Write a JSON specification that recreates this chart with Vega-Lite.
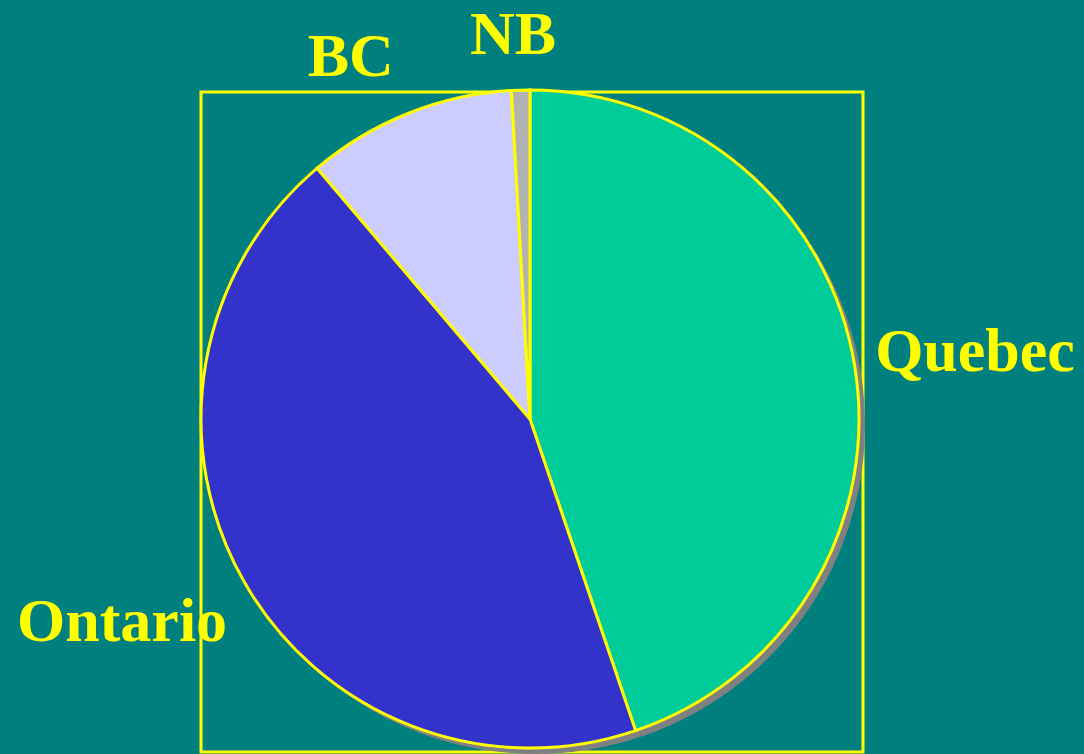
{
  "$schema": "https://vega.github.io/schema/vega-lite/v6.json",
  "width": 662,
  "height": 660,
  "autosize": {"type": "none"},
  "padding": {"left": 201, "top": 92, "right": 221, "bottom": 2},
  "background": "#007F7F",
  "view": {"stroke": "#FFFF00", "strokeWidth": 3, "fill": "#007F7F"},
  "config": {
    "text": {"font": "Liberation Serif", "fontWeight": "bold", "fontSize": 62, "fill": "#FFFF00", "align": "center", "baseline": "middle"}
  },
  "data": {
    "values": [
      {"province": "Quebec", "share": 44.8},
      {"province": "Ontario", "share": 44.0},
      {"province": "BC", "share": 10.3},
      {"province": "NB", "share": 0.9}
    ]
  },
  "encoding": {
    "theta": {"field": "share", "type": "quantitative", "stack": true},
    "order": {"field": "share", "type": "quantitative", "sort": "descending"}
  },
  "layer": [
    {
      "mark": {"type": "arc", "outerRadius": 329, "fill": "#808080", "xOffset": 4, "yOffset": 3}
    },
    {
      "mark": {"type": "arc", "outerRadius": 329, "stroke": "#FFFF00", "strokeWidth": 3, "xOffset": -2, "yOffset": -3},
      "encoding": {
        "color": {
          "field": "province",
          "type": "nominal",
          "scale": {"domain": ["Quebec", "Ontario", "BC", "NB"], "range": ["#00CC99", "#3333CC", "#CCCCFF", "#B2B2B2"]},
          "legend": null
        }
      }
    },
    {
      "mark": {"type": "text", "radius": 450, "dx": -1, "dy": 3},
      "encoding": {"text": {"condition": {"test": "datum.province === 'Quebec'", "field": "province"}, "value": ""}}
    },
    {
      "mark": {"type": "text", "radius": 455, "dx": -14, "dy": -24},
      "encoding": {"text": {"condition": {"test": "datum.province === 'Ontario'", "field": "province"}, "value": ""}}
    },
    {
      "mark": {"type": "text", "radius": 405, "dx": -31, "dy": 11},
      "encoding": {"text": {"condition": {"test": "datum.province === 'BC'", "field": "province"}, "value": ""}}
    },
    {
      "mark": {"type": "text", "radius": 388, "dx": -8, "dy": 1},
      "encoding": {"text": {"condition": {"test": "datum.province === 'NB'", "field": "province"}, "value": ""}}
    }
  ]
}
